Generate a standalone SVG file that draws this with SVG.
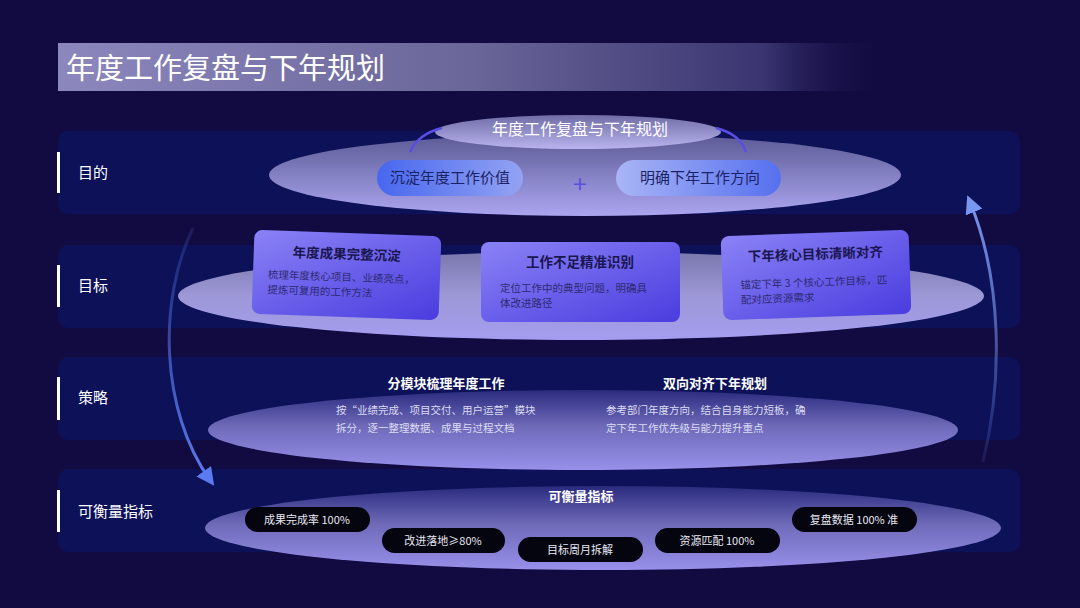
<svg xmlns="http://www.w3.org/2000/svg" width="1080" height="608" viewBox="0 0 1080 608">
<defs>
<linearGradient id="titleG" x1="0" y1="0" x2="1" y2="0">
<stop offset="0" stop-color="#8c87bd"/>
<stop offset="0.5" stop-color="#6a6699"/>
<stop offset="0.85" stop-color="#3a3570"/>
<stop offset="1" stop-color="#130c44" stop-opacity="0"/>
</linearGradient>
<linearGradient id="ell1" x1="0" y1="0" x2="0" y2="1">
<stop offset="0" stop-color="#5b5994"/>
<stop offset="0.6" stop-color="#8c88cc"/>
<stop offset="1" stop-color="#aba5f0"/>
</linearGradient>
<linearGradient id="ellTop" x1="0" y1="0" x2="0" y2="1">
<stop offset="0" stop-color="#6f6ca6"/>
<stop offset="1" stop-color="#b9b4ee"/>
</linearGradient>
<linearGradient id="ell2" x1="0" y1="0" x2="0" y2="1">
<stop offset="0" stop-color="#7a78ae"/>
<stop offset="0.5" stop-color="#9d98d6"/>
<stop offset="1" stop-color="#a49df0"/>
</linearGradient>
<linearGradient id="ell3" x1="0" y1="0" x2="0" y2="1">
<stop offset="0" stop-color="#2a2a7e"/>
<stop offset="0.45" stop-color="#6e6ab8"/>
<stop offset="1" stop-color="#9890ea"/>
</linearGradient>
<linearGradient id="pillL" x1="0" y1="0" x2="1" y2="0">
<stop offset="0" stop-color="#4767ef"/>
<stop offset="1" stop-color="#93a3f3"/>
</linearGradient>
<linearGradient id="pillR" x1="0" y1="0" x2="1" y2="0">
<stop offset="0" stop-color="#a9b5f5"/>
<stop offset="1" stop-color="#5670ef"/>
</linearGradient>
<linearGradient id="card" x1="0" y1="0" x2="1" y2="1">
<stop offset="0" stop-color="#8a82f6"/>
<stop offset="1" stop-color="#4a3cdf"/>
</linearGradient>
<linearGradient id="arrL" x1="0" y1="0" x2="0" y2="1">
<stop offset="0" stop-color="#5b7cf0" stop-opacity="0.15"/>
<stop offset="1" stop-color="#5b7cf0"/>
</linearGradient>
<linearGradient id="arrR" x1="0" y1="1" x2="0" y2="0">
<stop offset="0" stop-color="#7a96f0" stop-opacity="0.1"/>
<stop offset="1" stop-color="#7a96f0"/>
</linearGradient>
<marker id="headL" viewBox="0 0 10 10" refX="6" refY="5" markerWidth="6" markerHeight="6" orient="auto" markerUnits="strokeWidth">
<path d="M0,0 L10,5 L0,10 z" fill="#5b7cf0"/>
</marker>
<marker id="headR" viewBox="0 0 10 10" refX="6" refY="5" markerWidth="6" markerHeight="6" orient="auto" markerUnits="strokeWidth">
<path d="M0,0 L10,5 L0,10 z" fill="#7a96f0"/>
</marker>
</defs>
<style>
.band{fill:#0c1158}
.bar{fill:#ffffff}
.lbl{font-family:"Noto Sans CJK SC",sans-serif;font-size:15px;fill:#ffffff}
.cjk{font-family:"Noto Sans CJK SC",sans-serif}
.pilltxt{font-family:"Noto Sans CJK SC",sans-serif;font-size:15px;fill:#1c2266;text-anchor:middle}
.ctitle{font-family:"Noto Sans CJK SC",sans-serif;font-size:13.5px;font-weight:bold;fill:#1a1650;text-anchor:middle}
.cbody{font-family:"Noto Sans CJK SC",sans-serif;font-size:10.5px;fill:#2e2a72}
.stitle{font-family:"Noto Sans CJK SC",sans-serif;font-size:13px;font-weight:bold;fill:#ffffff;text-anchor:middle}
.sbody{font-family:"Noto Sans CJK SC",sans-serif;font-size:10.5px;fill:#dcdcf2}
.blk{fill:#050510}
.blktxt{font-family:"Noto Sans CJK SC",sans-serif;font-size:11px;fill:#e8e8f0;text-anchor:middle}
</style>
<rect width="1080" height="608" fill="#120b42"/>
<g id="title">
<rect x="58" y="43" width="830" height="48" fill="url(#titleG)"/>
<text x="66" y="79" class="cjk" font-size="29" fill="#ffffff">年度工作复盘与下年规划</text>
</g>
<g id="bands">
<rect class="band" x="58" y="131" width="962" height="83" rx="10"/>
<rect class="band" x="58" y="245" width="962" height="83" rx="10"/>
<rect class="band" x="58" y="357" width="962" height="83" rx="10"/>
<rect class="band" x="58" y="469" width="962" height="83" rx="10"/>
<rect class="bar" x="57" y="152" width="3" height="41"/>
<rect class="bar" x="57" y="265" width="3" height="42"/>
<rect class="bar" x="57" y="377" width="3" height="43"/>
<rect class="bar" x="57" y="490" width="3" height="42"/>
<text class="lbl" x="78" y="178">目的</text>
<text class="lbl" x="78" y="291">目标</text>
<text class="lbl" x="78" y="403">策略</text>
<text class="lbl" x="78" y="517">可衡量指标</text>
</g>
<g id="purpose">
<ellipse cx="585" cy="175" rx="316" ry="41" fill="url(#ell1)"/>
<ellipse cx="578" cy="132" rx="143" ry="17" fill="url(#ellTop)"/>
<path d="M410,152 Q418,134 442,128" fill="none" stroke="#5a4ee0" stroke-width="2.5"/>
<path d="M716,128 Q740,134 746,152" fill="none" stroke="#5a4ee0" stroke-width="2.5"/>
<text x="580" y="135" class="cjk" font-size="16" fill="#ffffff" text-anchor="middle">年度工作复盘与下年规划</text>
<rect x="377" y="160" width="146" height="36" rx="18" fill="url(#pillL)"/>
<text x="450" y="183" class="pilltxt">沉淀年度工作价值</text>
<rect x="616" y="160" width="165" height="36" rx="18" fill="url(#pillR)"/>
<text x="700" y="183" class="pilltxt">明确下年工作方向</text>
<text x="580" y="193" class="cjk" font-size="24" fill="#5b4fe0" text-anchor="middle">+</text>
</g>
<g id="goals">
<ellipse cx="581" cy="296" rx="403" ry="44" fill="url(#ell2)"/>
<g id="card1" transform="rotate(2 346 275)">
<rect x="253" y="233" width="187" height="84" rx="8" fill="url(#card)"/>
<text x="346" y="259" class="ctitle">年度成果完整沉淀</text>
<text x="268" y="281" class="cbody">梳理年度核心项目、业绩亮点，</text>
<text x="268" y="296" class="cbody">提炼可复用的工作方法</text>
</g>
<g id="card2">
<rect x="481" y="242" width="199" height="80" rx="8" fill="url(#card)"/>
<text x="580" y="267" class="ctitle">工作不足精准识别</text>
<text x="500" y="292" class="cbody">定位工作中的典型问题，明确具</text>
<text x="500" y="307" class="cbody">体改进路径</text>
</g>
<g id="card3" transform="rotate(-2 816 275)">
<rect x="722" y="233" width="188" height="84" rx="8" fill="url(#card)"/>
<text x="816" y="259" class="ctitle">下年核心目标清晰对齐</text>
<text x="740" y="286" class="cbody">锚定下年 3 个核心工作目标，匹</text>
<text x="740" y="301" class="cbody">配对应资源需求</text>
</g>
</g>
<g id="strategy">
<ellipse cx="583" cy="430" rx="375" ry="40" fill="url(#ell3)"/>
<text x="446" y="388" class="stitle">分模块梳理年度工作</text>
<text x="715" y="388" class="stitle">双向对齐下年规划</text>
<text x="336" y="414" class="sbody">按“业绩完成、项目交付、用户运营”模块</text>
<text x="336" y="432" class="sbody">拆分，逐一整理数据、成果与过程文档</text>
<text x="606" y="414" class="sbody">参考部门年度方向，结合自身能力短板，确</text>
<text x="606" y="432" class="sbody">定下年工作优先级与能力提升重点</text>
</g>
<g id="metrics">
<ellipse cx="603" cy="528" rx="398" ry="42" fill="url(#ell3)"/>
<text x="581" y="501" class="stitle">可衡量指标</text>
<rect class="blk" x="245" y="507" width="125" height="25" rx="12.5"/>
<text x="307" y="524" class="blktxt">成果完成率 100%</text>
<rect class="blk" x="382" y="528" width="123" height="25" rx="12.5"/>
<text x="443" y="545" class="blktxt">改进落地≥80%</text>
<rect class="blk" x="518" y="537" width="125" height="25" rx="12.5"/>
<text x="580" y="554" class="blktxt">目标周月拆解</text>
<rect class="blk" x="655" y="528" width="125" height="25" rx="12.5"/>
<text x="717" y="545" class="blktxt">资源匹配 100%</text>
<rect class="blk" x="792" y="507" width="125" height="25" rx="12.5"/>
<text x="854" y="524" class="blktxt">复盘数据 100% 准</text>
</g>
<g id="connectors">
<path d="M193,228 C158,300 160,410 210,480" fill="none" stroke="url(#arrL)" stroke-width="3" marker-end="url(#headL)"/>
<path d="M983,462 C1003,380 1002,280 970,202" fill="none" stroke="url(#arrR)" stroke-width="3" marker-end="url(#headR)"/>
</g>
</svg>
